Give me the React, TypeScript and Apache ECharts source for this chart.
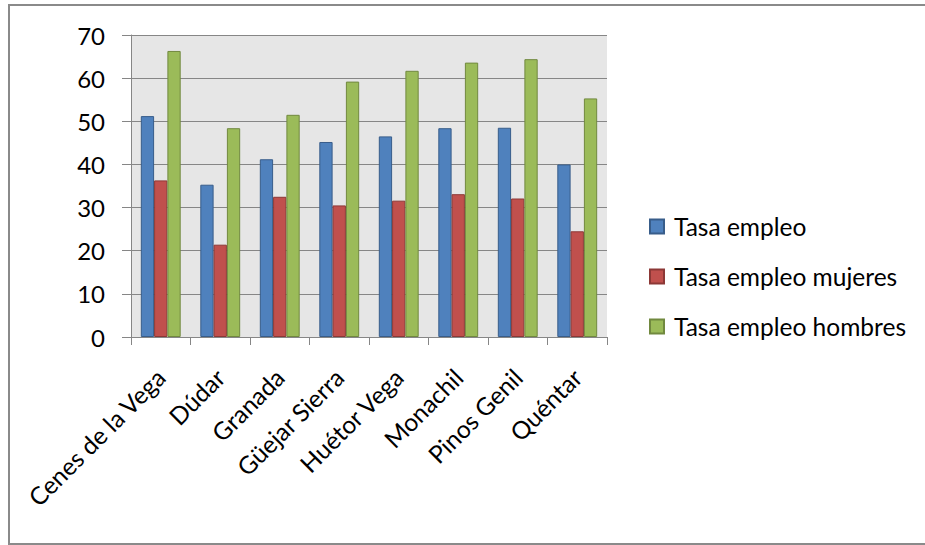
import React, { useEffect, useRef } from "react";
import * as echarts from "echarts";

const categories = [
  "Cenes de la Vega",
  "Dúdar",
  "Granada",
  "Güejar Sierra",
  "Huétor Vega",
  "Monachil",
  "Pinos Genil",
  "Quéntar",
];
const tasaEmpleo = [51.2, 35.3, 41.2, 45.2, 46.5, 48.4, 48.5, 40.0];
const tasaMujeres = [36.3, 21.4, 32.5, 30.5, 31.6, 33.1, 32.1, 24.5];
const tasaHombres = [66.3, 48.4, 51.5, 59.2, 61.7, 63.6, 64.4, 55.3];
const seriesNames = ["Tasa empleo", "Tasa empleo mujeres", "Tasa empleo hombres"];

const FONT = "Lato";

export default function App() {
  const ref = useRef<HTMLDivElement>(null);
  useEffect(() => {
    document.body.style.margin = "0";
    const chart = echarts.init(ref.current!, null, { renderer: "svg" });
    const mk = (name: string, data: number[], color: string, border: string) => ({
      name,
      type: "bar",
      data,
      barGap: "0%",
      barCategoryGap: "33%",
      itemStyle: { color, borderColor: border, borderWidth: 1 },
    });
    chart.setOption({
      animation: false,
      backgroundColor: "#ffffff",
      textStyle: { fontFamily: FONT },
      graphic: [
        {
          type: "rect",
          shape: { x: 9, y: 5, width: 1000, height: 539 },
          style: { fill: "none", stroke: "#8a8a8a", lineWidth: 2 },
          silent: true,
          z: -1,
        },
      ],
      grid: {
        left: 131,
        top: 35,
        width: 476,
        height: 302,
        show: true,
        backgroundColor: "#e6e6e6",
        borderWidth: 0,
      },
      legend: {
        orient: "vertical",
        left: 649,
        top: 214,
        padding: 0,
        itemWidth: 14,
        itemHeight: 14,
        itemGap: 25,
        icon: "rect",
        textStyle: { fontFamily: FONT, fontSize: 24.5, color: "#000", lineHeight: 24, padding: [0, 0, 0, 5] },
        data: seriesNames,
      },
      xAxis: {
        type: "category",
        data: categories,
        axisLine: { lineStyle: { color: "#868686", width: 1 } },
        axisTick: { show: true, length: 8, lineStyle: { color: "#868686" } },
        axisLabel: {
          rotate: 45,
          interval: 0,
          fontFamily: FONT,
          fontSize: 24.5,
          color: "#000",
          margin: 36,
        },
      },
      yAxis: {
        type: "value",
        min: 0,
        max: 70,
        interval: 10,
        axisLine: { show: true, lineStyle: { color: "#868686", width: 1 } },
        axisTick: { show: true, length: 9, lineStyle: { color: "#868686" } },
        splitLine: { show: true, lineStyle: { color: "#868686", width: 1 } },
        axisLabel: { fontFamily: FONT, fontSize: 24, color: "#000", margin: 26 },
      },
      series: [
        mk(seriesNames[0], tasaEmpleo, "#4f81bd", "#385d8a"),
        mk(seriesNames[1], tasaMujeres, "#c0504d", "#8c3836"),
        mk(seriesNames[2], tasaHombres, "#9bbb59", "#71893f"),
      ],
    });
    return () => chart.dispose();
  }, []);
  return <div ref={ref} style={{ width: 925, height: 545 }} />;
}
